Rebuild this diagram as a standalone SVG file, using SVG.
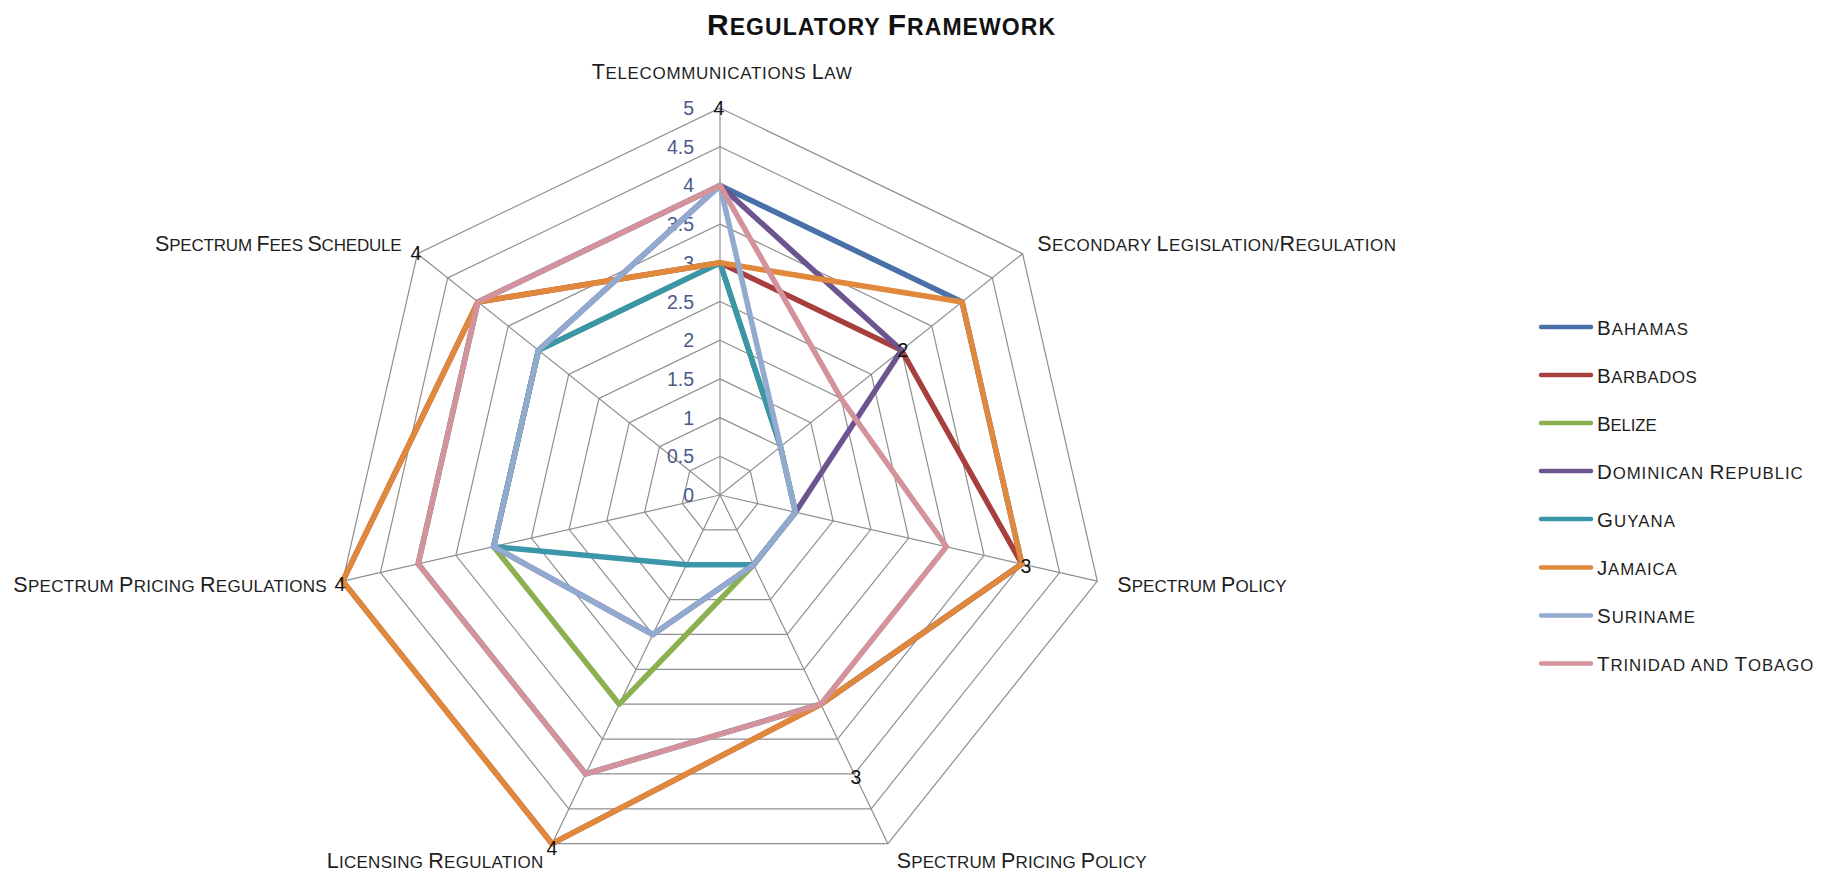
<svg xmlns="http://www.w3.org/2000/svg" width="1832" height="873" viewBox="0 0 1832 873">
<style>
text{font-family:"Liberation Sans",Arial,sans-serif;fill:#1e1e1e}
.t{font-weight:bold;fill:#111111}
.tc{font-size:30px}.ts{font-size:23px}
.c{font-size:21.5px}.s{font-size:17px}
.lc{font-size:20.5px}.ls{font-size:16.8px}
.tick{font-size:19.5px;fill:#4a5a8a;text-anchor:end}
.dl{font-size:19.5px;fill:#111;text-anchor:middle}
.ring{fill:none;stroke:#8f8f8f;stroke-width:1.2}
.spoke{stroke:#8f8f8f;stroke-width:1.2}
.ser{fill:none;stroke-width:5.5;stroke-linejoin:round}
.leg{stroke-width:4.5;stroke-linecap:round}
.bah{stroke:#4a70a8}.bar{stroke:#a63f3d}.bel{stroke:#8bb050}.dom{stroke:#6b5490}
.guy{stroke:#3b96aa}.jam{stroke:#e0893c}.sur{stroke:#93aad0}.tri{stroke:#d4939a}
</style>
<rect width="1832" height="873" fill="#ffffff"/>
<text id="title" class="t" x="707" y="35" textLength="348" lengthAdjust="spacing"><tspan class="tc">R</tspan><tspan class="ts">EGULATORY </tspan><tspan class="tc">F</tspan><tspan class="ts">RAMEWORK</tspan></text>
<g id="grid">
<polygon class="ring" points="720,456.3 750.26,470.87 757.73,503.61 736.79,529.87 703.21,529.87 682.27,503.61 689.74,470.87"/>
<polygon class="ring" points="720,417.6 780.51,446.74 795.46,512.22 753.58,564.74 686.42,564.74 644.54,512.22 659.49,446.74"/>
<polygon class="ring" points="720,378.9 810.77,422.61 833.19,520.84 770.38,599.6 669.62,599.6 606.81,520.84 629.23,422.61"/>
<polygon class="ring" points="720,340.2 841.03,398.48 870.92,529.45 787.17,634.47 652.83,634.47 569.08,529.45 598.97,398.48"/>
<polygon class="ring" points="720,301.5 871.29,374.36 908.65,538.06 803.96,669.34 636.04,669.34 531.35,538.06 568.71,374.36"/>
<polygon class="ring" points="720,262.8 901.54,350.23 946.38,546.67 820.75,704.21 619.25,704.21 493.62,546.67 538.46,350.23"/>
<polygon class="ring" points="720,224.1 931.8,326.1 984.11,555.28 837.54,739.08 602.46,739.08 455.89,555.28 508.2,326.1"/>
<polygon class="ring" points="720,185.4 962.06,301.97 1021.84,563.89 854.33,773.94 585.67,773.94 418.16,563.89 477.94,301.97"/>
<polygon class="ring" points="720,146.7 992.31,277.84 1059.57,572.51 871.13,808.81 568.87,808.81 380.43,572.51 447.69,277.84"/>
<polygon class="ring" points="720,108 1022.57,253.71 1097.3,581.12 887.92,843.68 552.08,843.68 342.7,581.12 417.43,253.71"/>
<line class="spoke" x1="720" y1="495" x2="720" y2="108"/>
<line class="spoke" x1="720" y1="495" x2="1022.57" y2="253.71"/>
<line class="spoke" x1="720" y1="495" x2="1097.3" y2="581.12"/>
<line class="spoke" x1="720" y1="495" x2="887.92" y2="843.68"/>
<line class="spoke" x1="720" y1="495" x2="552.08" y2="843.68"/>
<line class="spoke" x1="720" y1="495" x2="342.7" y2="581.12"/>
<line class="spoke" x1="720" y1="495" x2="417.43" y2="253.71"/>
</g>
<g id="ticks">
<text class="tick" x="694" y="115">5</text>
<text class="tick" x="694" y="153.7">4.5</text>
<text class="tick" x="694" y="192.4">4</text>
<text class="tick" x="694" y="231.1">3.5</text>
<text class="tick" x="694" y="269.8">3</text>
<text class="tick" x="694" y="308.5">2.5</text>
<text class="tick" x="694" y="347.2">2</text>
<text class="tick" x="694" y="385.9">1.5</text>
<text class="tick" x="694" y="424.6">1</text>
<text class="tick" x="694" y="463.3">0.5</text>
<text class="tick" x="694" y="502">0</text>
</g>
<g id="series">
<polygon id="s-bahamas" class="ser bah" points="720,185.4 962.06,301.97 1021.84,563.89 820.75,704.21 585.67,773.94 418.16,563.89 477.94,301.97"/>
<polygon id="s-barbados" class="ser bar" points="720,262.8 901.54,350.23 1021.84,563.89 820.75,704.21 552.08,843.68 342.7,581.12 477.94,301.97"/>
<polygon id="s-belize" class="ser bel" points="720,262.8 780.51,446.74 795.46,512.22 753.58,564.74 619.25,704.21 493.62,546.67 538.46,350.23"/>
<polygon id="s-dominican" class="ser dom" points="720,185.4 901.54,350.23 795.46,512.22 753.58,564.74 652.83,634.47 493.62,546.67 538.46,350.23"/>
<polygon id="s-guyana" class="ser guy" points="720,262.8 780.51,446.74 795.46,512.22 753.58,564.74 686.42,564.74 493.62,546.67 538.46,350.23"/>
<polygon id="s-jamaica" class="ser jam" points="720,262.8 962.06,301.97 1021.84,563.89 820.75,704.21 552.08,843.68 342.7,581.12 477.94,301.97"/>
<polygon id="s-suriname" class="ser sur" points="720,185.4 780.51,446.74 795.46,512.22 753.58,564.74 652.83,634.47 493.62,546.67 538.46,350.23"/>
<polygon id="s-trinidad" class="ser tri" points="720,185.4 841.03,398.48 946.38,546.67 820.75,704.21 585.67,773.94 418.16,563.89 477.94,301.97"/>
</g>
<g id="data-labels">
<text class="dl" x="719" y="115">4</text>
<text class="dl" x="903" y="357">2</text>
<text class="dl" x="1026" y="573">3</text>
<text class="dl" x="856" y="784">3</text>
<text class="dl" x="552" y="855">4</text>
<text class="dl" x="340" y="591">4</text>
<text class="dl" x="416" y="260">4</text>
</g>
<g id="axis-labels">
<text x="591.7" y="79" textLength="260" lengthAdjust="spacing"><tspan class="c">T</tspan><tspan class="s">ELECOMMUNICATIONS </tspan><tspan class="c">L</tspan><tspan class="s">AW</tspan></text>
<text x="1037.3" y="251" textLength="358.7" lengthAdjust="spacing"><tspan class="c">S</tspan><tspan class="s">ECONDARY </tspan><tspan class="c">L</tspan><tspan class="s">EGISLATION/</tspan><tspan class="c">R</tspan><tspan class="s">EGULATION</tspan></text>
<text x="1117.3" y="592" textLength="169.4" lengthAdjust="spacing"><tspan class="c">S</tspan><tspan class="s">PECTRUM </tspan><tspan class="c">P</tspan><tspan class="s">OLICY</tspan></text>
<text x="896.7" y="868" textLength="250" lengthAdjust="spacing"><tspan class="c">S</tspan><tspan class="s">PECTRUM </tspan><tspan class="c">P</tspan><tspan class="s">RICING </tspan><tspan class="c">P</tspan><tspan class="s">OLICY</tspan></text>
<text x="326.7" y="868" textLength="216.6" lengthAdjust="spacing"><tspan class="c">L</tspan><tspan class="s">ICENSING </tspan><tspan class="c">R</tspan><tspan class="s">EGULATION</tspan></text>
<text x="13.3" y="592" textLength="313.4" lengthAdjust="spacing"><tspan class="c">S</tspan><tspan class="s">PECTRUM </tspan><tspan class="c">P</tspan><tspan class="s">RICING </tspan><tspan class="c">R</tspan><tspan class="s">EGULATIONS</tspan></text>
<text x="155" y="251" textLength="246.7" lengthAdjust="spacing"><tspan class="c">S</tspan><tspan class="s">PECTRUM </tspan><tspan class="c">F</tspan><tspan class="s">EES </tspan><tspan class="c">S</tspan><tspan class="s">CHEDULE</tspan></text>
</g>
<g id="legend">
<g id="leg-bahamas"><line class="leg bah" x1="1541" y1="327" x2="1591" y2="327"/><text x="1597" y="334.5" textLength="91" lengthAdjust="spacing"><tspan class="lc">B</tspan><tspan class="ls">AHAMAS</tspan></text></g>
<g id="leg-barbados"><line class="leg bar" x1="1541" y1="375" x2="1591" y2="375"/><text x="1597" y="382.5" textLength="99.7" lengthAdjust="spacing"><tspan class="lc">B</tspan><tspan class="ls">ARBADOS</tspan></text></g>
<g id="leg-belize"><line class="leg bel" x1="1541" y1="423" x2="1591" y2="423"/><text x="1597" y="430.5" textLength="59.7" lengthAdjust="spacing"><tspan class="lc">B</tspan><tspan class="ls">ELIZE</tspan></text></g>
<g id="leg-dominican"><line class="leg dom" x1="1541" y1="471" x2="1591" y2="471"/><text x="1597" y="478.5" textLength="205.7" lengthAdjust="spacing"><tspan class="lc">D</tspan><tspan class="ls">OMINICAN </tspan><tspan class="lc">R</tspan><tspan class="ls">EPUBLIC</tspan></text></g>
<g id="leg-guyana"><line class="leg guy" x1="1541" y1="519" x2="1591" y2="519"/><text x="1597" y="526.5" textLength="78" lengthAdjust="spacing"><tspan class="lc">G</tspan><tspan class="ls">UYANA</tspan></text></g>
<g id="leg-jamaica"><line class="leg jam" x1="1541" y1="567.5" x2="1591" y2="567.5"/><text x="1597" y="575" textLength="79.7" lengthAdjust="spacing"><tspan class="lc">J</tspan><tspan class="ls">AMAICA</tspan></text></g>
<g id="leg-suriname"><line class="leg sur" x1="1541" y1="615.5" x2="1591" y2="615.5"/><text x="1597" y="623" textLength="98" lengthAdjust="spacing"><tspan class="lc">S</tspan><tspan class="ls">URINAME</tspan></text></g>
<g id="leg-trinidad"><line class="leg tri" x1="1541" y1="663.5" x2="1591" y2="663.5"/><text x="1597" y="671" textLength="216.3" lengthAdjust="spacing"><tspan class="lc">T</tspan><tspan class="ls">RINIDAD AND </tspan><tspan class="lc">T</tspan><tspan class="ls">OBAGO</tspan></text></g>
</g>
</svg>
